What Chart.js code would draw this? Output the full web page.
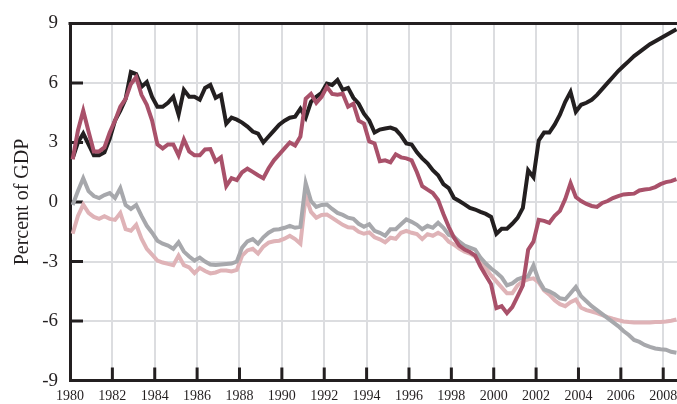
<!DOCTYPE html>
<html>
<head>
<meta charset="utf-8">
<script src="https://cdn.jsdelivr.net/npm/chart.js@4/dist/chart.umd.min.js"></script>
<style>
html,body{margin:0;padding:0;overflow:hidden;background:#fff;width:677px;height:404px;}
canvas{display:block;}
</style>
</head>
<body>
<canvas id="c" width="700" height="404"></canvas>
<script>
// Quarterly observations, first point at 1980 Q1 (plotted mid-quarter)
const firstYear = 1980.125;
const xTickYears = [1980,1982,1984,1986,1988,1990,1992,1994,1996,1998,2000,2002,2004,2006,2008];
const yTickValues = [-9,-6,-3,0,3,6,9];

const seriesBlack = [
 2.2,3.0,3.45,2.9,2.35,2.35,2.5,3.2,4.1,4.6,5.2,6.55,6.45,5.8,6.05,5.3,4.8,4.8,5.0,5.3,
 4.4,5.65,5.3,5.3,5.15,5.75,5.9,5.25,5.4,3.95,4.25,4.15,4.0,3.8,3.55,3.45,3.0,3.3,3.6,3.9,
 4.1,4.25,4.3,4.7,4.25,5.05,5.3,5.5,5.97,5.9,6.15,5.65,5.75,5.25,4.95,4.45,4.1,3.5,3.65,3.7,
 3.75,3.65,3.35,2.95,2.9,2.5,2.2,1.95,1.6,1.35,0.9,0.7,0.2,0.05,-0.12,-0.3,-0.38,-0.5,-0.6,-0.75,
 -1.6,-1.35,-1.35,-1.1,-0.8,-0.3,1.6,1.25,3.1,3.5,3.5,3.9,4.4,5.05,5.55,4.55,4.9,5.0,5.15,5.4,
 5.7,6.0,6.3,6.6,6.85,7.1,7.35,7.55,7.75,7.95,8.1,8.25,8.4,8.55,8.7
];
const seriesRed = [
 2.15,3.6,4.6,3.55,2.55,2.55,2.75,3.5,4.1,4.8,5.2,5.95,6.3,5.4,4.9,4.1,2.9,2.7,2.9,2.9,
 2.35,3.15,2.55,2.35,2.35,2.65,2.67,2.05,2.25,0.8,1.2,1.1,1.5,1.68,1.52,1.35,1.2,1.7,2.1,2.4,
 2.7,3.0,2.85,3.3,5.2,5.45,5.0,5.3,5.8,5.45,5.4,5.45,4.8,4.95,4.1,3.95,3.05,2.95,2.05,2.1,
 2.0,2.4,2.25,2.2,2.1,1.5,0.8,0.62,0.45,0.1,-0.6,-1.25,-1.8,-2.2,-2.4,-2.52,-2.7,-3.25,-3.7,-4.15,
 -5.35,-5.25,-5.6,-5.3,-4.75,-4.2,-2.4,-2.0,-0.9,-0.95,-1.05,-0.7,-0.45,0.15,0.95,0.25,0.05,-0.1,-0.2,-0.25,
 -0.05,0.05,0.2,0.3,0.38,0.4,0.42,0.58,0.63,0.66,0.75,0.9,1.0,1.05,1.15
];
const seriesGray = [
 -0.15,0.55,1.2,0.55,0.3,0.2,0.35,0.45,0.2,0.7,-0.15,-0.35,-0.15,-0.7,-1.2,-1.55,-1.95,-2.1,-2.2,-2.36,
 -2.03,-2.5,-2.75,-2.95,-2.8,-3.0,-3.15,-3.18,-3.15,-3.12,-3.1,-3.0,-2.3,-1.98,-1.87,-2.1,-1.78,-1.55,-1.4,-1.37,
 -1.3,-1.2,-1.3,-1.25,0.95,0.05,-0.25,-0.15,-0.13,-0.35,-0.55,-0.65,-0.79,-0.85,-1.1,-1.25,-1.12,-1.45,-1.55,-1.7,
 -1.37,-1.37,-1.12,-0.88,-1.0,-1.15,-1.37,-1.2,-1.3,-1.05,-1.3,-1.65,-1.75,-2.0,-2.2,-2.3,-2.4,-2.8,-3.1,-3.35,
 -3.55,-3.8,-4.2,-4.1,-3.9,-3.8,-3.75,-3.2,-3.95,-4.4,-4.5,-4.65,-4.85,-4.9,-4.6,-4.28,-4.75,-5.0,-5.25,-5.45,
 -5.65,-5.85,-6.05,-6.25,-6.5,-6.7,-6.95,-7.05,-7.2,-7.3,-7.38,-7.42,-7.44,-7.55,-7.6
];
const seriesPink = [
 -1.6,-0.7,-0.13,-0.55,-0.75,-0.85,-0.72,-0.85,-0.9,-0.55,-1.37,-1.45,-1.15,-1.85,-2.36,-2.65,-2.95,-3.05,-3.12,-3.18,
 -2.7,-3.18,-3.3,-3.58,-3.32,-3.48,-3.6,-3.55,-3.45,-3.45,-3.5,-3.42,-2.7,-2.44,-2.36,-2.6,-2.25,-2.05,-1.98,-1.95,
 -1.85,-1.7,-1.87,-2.1,0.3,-0.5,-0.79,-0.65,-0.63,-0.8,-0.98,-1.15,-1.27,-1.3,-1.5,-1.6,-1.53,-1.78,-1.88,-2.03,
 -1.8,-1.85,-1.55,-1.45,-1.55,-1.62,-1.87,-1.62,-1.7,-1.55,-1.7,-2.0,-2.15,-2.35,-2.5,-2.6,-2.75,-3.0,-3.35,-3.7,
 -4.0,-4.3,-4.6,-4.6,-4.2,-4.0,-3.9,-3.85,-4.05,-4.45,-4.67,-4.95,-5.15,-5.25,-5.05,-4.92,-5.33,-5.45,-5.52,-5.6,
 -5.7,-5.8,-5.88,-5.95,-6.02,-6.05,-6.07,-6.07,-6.07,-6.07,-6.05,-6.05,-6.02,-5.98,-5.92
];

function toPoints(arr){ return arr.map((v,i)=>({x:firstYear + i/4, y:v})); }

const serif = "'Liberation Serif','DejaVu Serif',serif";

const frame = {
  id:'frame',
  beforeDatasetsDraw(chart){
    const {ctx, chartArea:a, scales:{x,y}} = chart;
    ctx.save();
    ctx.strokeStyle = '#231f20';
    ctx.lineWidth = 3;
    ctx.beginPath();
    yTickValues.forEach(v=>{
      if (v===9 || v===-9) return;
      const py = y.getPixelForValue(v);
      ctx.moveTo(a.left, py); ctx.lineTo(a.left+13, py);
    });
    xTickYears.forEach(v=>{
      if (v===1980) return;
      const px = x.getPixelForValue(v);
      ctx.moveTo(px, a.bottom); ctx.lineTo(px, a.bottom-13);
    });
    ctx.stroke();
    ctx.restore();
  },
  afterDraw(chart){
    const {ctx, chartArea:a} = chart;
    ctx.save();
    ctx.strokeStyle = '#231f20';
    ctx.lineWidth = 3;
    ctx.beginPath();
    ctx.moveTo(a.left-1.5, a.top); ctx.lineTo(chart.width, a.top);
    ctx.stroke();
    ctx.restore();
  }
};

const common = {borderWidth:4, pointRadius:0, tension:0, fill:false, borderCapStyle:'butt'};

new Chart(document.getElementById('c'), {
  type:'line',
  data:{
    datasets:[
      Object.assign({label:'Red', data:toPoints(seriesRed), borderColor:'#a9516a'}, common),
      Object.assign({label:'Black', data:toPoints(seriesBlack), borderColor:'#231f20'}, common),
      Object.assign({label:'Gray', data:toPoints(seriesGray), borderColor:'#a7a8ac'}, common),
      Object.assign({label:'Pink', data:toPoints(seriesPink), borderColor:'#dfb3b7'}, common)
    ]
  },
  options:{
    responsive:false,
    animation:false,
    devicePixelRatio:1,
    layout:{padding:{top:17,right:5,left:0,bottom:0}},
    plugins:{legend:{display:false}, tooltip:{enabled:false}},
    scales:{
      x:{
        type:'linear', min:1980, max:2009.5,
        afterBuildTicks(s){ s.ticks = xTickYears.map(v=>({value:v})); },
        afterFit(s){ s.height = 23; },
        grid:{color:'#dcdde0', lineWidth:2, drawTicks:false},
        border:{color:'#231f20', width:3},
        ticks:{padding:7, maxRotation:0, autoSkip:false, color:'#231f20',
               font:{family:serif, size:14}, callback:v=>String(v)}
      },
      y:{
        min:-9, max:9,
        afterBuildTicks(s){ s.ticks = yTickValues.map(v=>({value:v})); },
        afterFit(s){ s.width = 70; },
        grid:{color:'#dcdde0', lineWidth:2, drawTicks:false},
        border:{color:'#231f20', width:3},
        ticks:{padding:12, color:'#231f20', font:{family:serif, size:19},
               callback:v=>String(v)},
        title:{display:true, text:'Percent of GDP', color:'#231f20',
               font:{family:serif, size:20, lineHeight:1.2}, padding:{top:11,bottom:0}}
      }
    }
  },
  plugins:[frame]
});
</script>
</body>
</html>
